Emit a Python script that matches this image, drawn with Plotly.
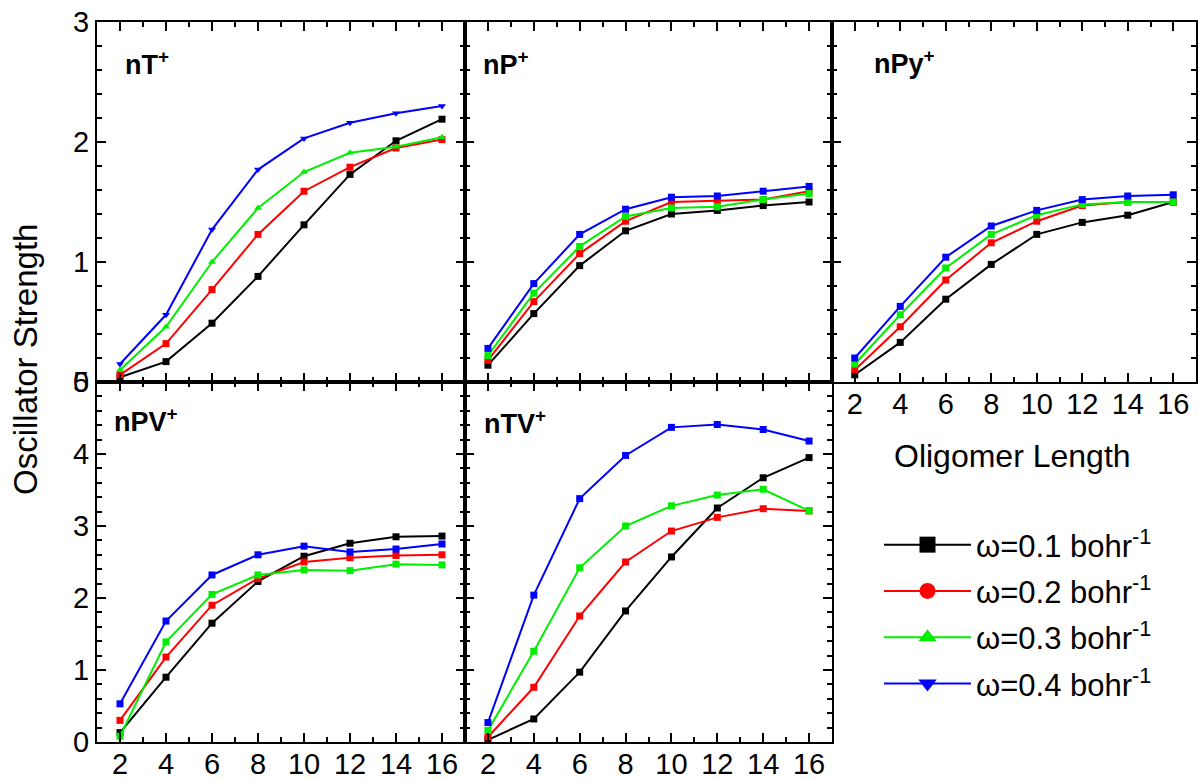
import plotly.graph_objects as go

# ---------------- data ----------------
oligomer_length = [2, 4, 6, 8, 10, 12, 14, 16]
series_names = ["ω=0.1 bohr<sup>-1</sup>", "ω=0.2 bohr<sup>-1</sup>",
                "ω=0.3 bohr<sup>-1</sup>", "ω=0.4 bohr<sup>-1</sup>"]
panel_names = ["nT<sup>+</sup>", "nP<sup>+</sup>", "nPy<sup>+</sup>", "nPV<sup>+</sup>", "nTV<sup>+</sup>"]

nT_w1 = [0.04, 0.17, 0.49, 0.88, 1.31, 1.73, 2.01, 2.19]
nT_w2 = [0.06, 0.32, 0.77, 1.23, 1.59, 1.79, 1.95, 2.02]
nT_w3 = [0.10, 0.46, 1.00, 1.45, 1.75, 1.91, 1.96, 2.04]
nT_w4 = [0.15, 0.56, 1.27, 1.77, 2.03, 2.16, 2.24, 2.30]

nP_w1 = [0.14, 0.57, 0.97, 1.26, 1.40, 1.43, 1.47, 1.50]
nP_w2 = [0.18, 0.67, 1.07, 1.34, 1.50, 1.51, 1.52, 1.59]
nP_w3 = [0.22, 0.74, 1.13, 1.38, 1.45, 1.46, 1.52, 1.57]
nP_w4 = [0.28, 0.82, 1.23, 1.44, 1.54, 1.55, 1.59, 1.63]

nPy_w1 = [0.06, 0.33, 0.69, 0.98, 1.23, 1.33, 1.39, 1.50]
nPy_w2 = [0.10, 0.46, 0.85, 1.16, 1.34, 1.47, 1.50, 1.50]
nPy_w3 = [0.15, 0.56, 0.95, 1.23, 1.39, 1.48, 1.50, 1.50]
nPy_w4 = [0.20, 0.63, 1.04, 1.30, 1.43, 1.52, 1.55, 1.56]

nPV_w1 = [0.13, 0.90, 1.65, 2.23, 2.58, 2.76, 2.85, 2.86]
nPV_w2 = [0.30, 1.18, 1.90, 2.27, 2.50, 2.56, 2.59, 2.60]
nPV_w3 = [0.08, 1.39, 2.05, 2.32, 2.39, 2.38, 2.47, 2.46]
nPV_w4 = [0.53, 1.68, 2.32, 2.60, 2.72, 2.64, 2.68, 2.75]

nTV_w1 = [0.03, 0.32, 0.97, 1.82, 2.57, 3.25, 3.67, 3.95]
nTV_w2 = [0.07, 0.76, 1.75, 2.50, 2.93, 3.12, 3.24, 3.21]
nTV_w3 = [0.16, 1.26, 2.42, 3.00, 3.28, 3.43, 3.51, 3.21]
nTV_w4 = [0.27, 2.04, 3.38, 3.98, 4.37, 4.41, 4.34, 4.18]

x_tickvals = [2, 4, 6, 8, 10, 12, 14, 16]

# ---------------- style ----------------
W, H = 1198, 780
FONT = "Arial, 'Liberation Sans', sans-serif"
colors = ["#000000", "#ff0000", "#00ee00", "#0000ff"]
legend_symbols = ["square", "circle", "triangle-up", "triangle-down"]

panels = [
    (panel_names[0], [nT_w1, nT_w2, nT_w3, nT_w4]),
    (panel_names[1], [nP_w1, nP_w2, nP_w3, nP_w4]),
    (panel_names[2], [nPy_w1, nPy_w2, nPy_w3, nPy_w4]),
    (panel_names[3], [nPV_w1, nPV_w2, nPV_w3, nPV_w4]),
    (panel_names[4], [nTV_w1, nTV_w2, nTV_w3, nTV_w4]),
]

# pixel boxes (left, right, top, bottom)
boxes = [
    (97, 465, 22, 382),
    (465, 832, 22, 382),
    (832, 1196, 22, 382),
    (97, 465, 382, 742),
    (465, 832, 382, 742),
]
label_pos = [(123, 63), (481, 63), (872, 62), (112, 420), (482, 422)]
y_ranges = [[0, 3], [0, 3], [0, 3], [0, 5], [0, 5]]
show_x_labels = [False, False, True, True, True]
show_y_labels = [True, False, False, True, False]

fig = go.Figure()

for i, (pname, series) in enumerate(panels):
    ax = "" if i == 0 else str(i + 1)
    for j, vals in enumerate(series):
        if i == 0:
            sym = ["square", "square", "triangle-up", "triangle-down"][j]
        else:
            sym = "square"
        fig.add_trace(go.Scatter(
            x=oligomer_length, y=vals, mode="lines+markers",
            line=dict(color=colors[j], width=2),
            marker=dict(symbol=sym, size=7, color=colors[j]),
            xaxis="x" + ax, yaxis="y" + ax, showlegend=False,
            hoverinfo="x+y", name=series_names[j]))

    l, r, t, b = boxes[i]
    xd = [l / W, r / W]
    yd = [1 - b / H, 1 - t / H]
    common = dict(showline=True, linecolor="black", linewidth=2, mirror="ticks",
                  ticks="inside", ticklen=9, tickwidth=2, tickcolor="black",
                  showgrid=False, zeroline=False, automargin=False,
                  tickfont=dict(family=FONT, size=29, color="black"))
    fig.layout["xaxis" + ax] = dict(
        domain=xd, range=[1, 17], anchor="y" + ax,
        tickvals=x_tickvals, showticklabels=show_x_labels[i],
        ticklabelstandoff=-5,
        minor=dict(dtick=1, tick0=1, ticks="inside", ticklen=5, tickwidth=2, tickcolor="black"),
        **common)
    fig.layout["yaxis" + ax] = dict(
        domain=yd, range=y_ranges[i], anchor="x" + ax, dtick=1,
        showticklabels=show_y_labels[i],
        minor=dict(dtick=0.2, ticks="inside", ticklen=5, tickwidth=2, tickcolor="black"),
        **common)

    px, py = label_pos[i]
    fig.add_annotation(x=px / W, y=1 - py / H, xref="paper", yref="paper",
                       text="<b>" + pname + "</b>", showarrow=False,
                       xanchor="left", yanchor="middle",
                       font=dict(family=FONT, size=27, color="black"))

# legend-only traces
for j in range(4):
    fig.add_trace(go.Scatter(
        x=[None], y=[None], mode="lines+markers", name=series_names[j],
        line=dict(color=colors[j], width=2),
        marker=dict(symbol=legend_symbols[j], size=16, color=colors[j]),
        legendgroup="g%d" % j, showlegend=True, xaxis="x", yaxis="y"))

fig.add_annotation(x=25 / W, y=1 - 360 / H, xref="paper", yref="paper",
                   text="Oscillator Strength", textangle=-90, showarrow=False,
                   xanchor="center", yanchor="middle",
                   font=dict(family=FONT, size=33, color="black"))
fig.add_annotation(x=1012 / W, y=1 - 456 / H, xref="paper", yref="paper",
                   text="Oligomer Length", showarrow=False,
                   xanchor="center", yanchor="middle",
                   font=dict(family=FONT, size=32, color="black"))

fig.update_layout(
    width=W, height=H,
    margin=dict(l=0, r=0, t=0, b=0, autoexpand=False),
    paper_bgcolor="white", plot_bgcolor="white",
    showlegend=True,
    legend=dict(x=879 / W, y=1 - 518 / H, xanchor="left", yanchor="top",
                itemwidth=87, tracegroupgap=3, bgcolor="rgba(0,0,0,0)",
                font=dict(family=FONT, size=31, color="black"),
                itemclick=False, itemdoubleclick=False),
)

fig.write_html("out.html", config={"displayModeBar": False},
               post_script="document.body.style.margin='0';document.body.style.overflow='hidden';")
